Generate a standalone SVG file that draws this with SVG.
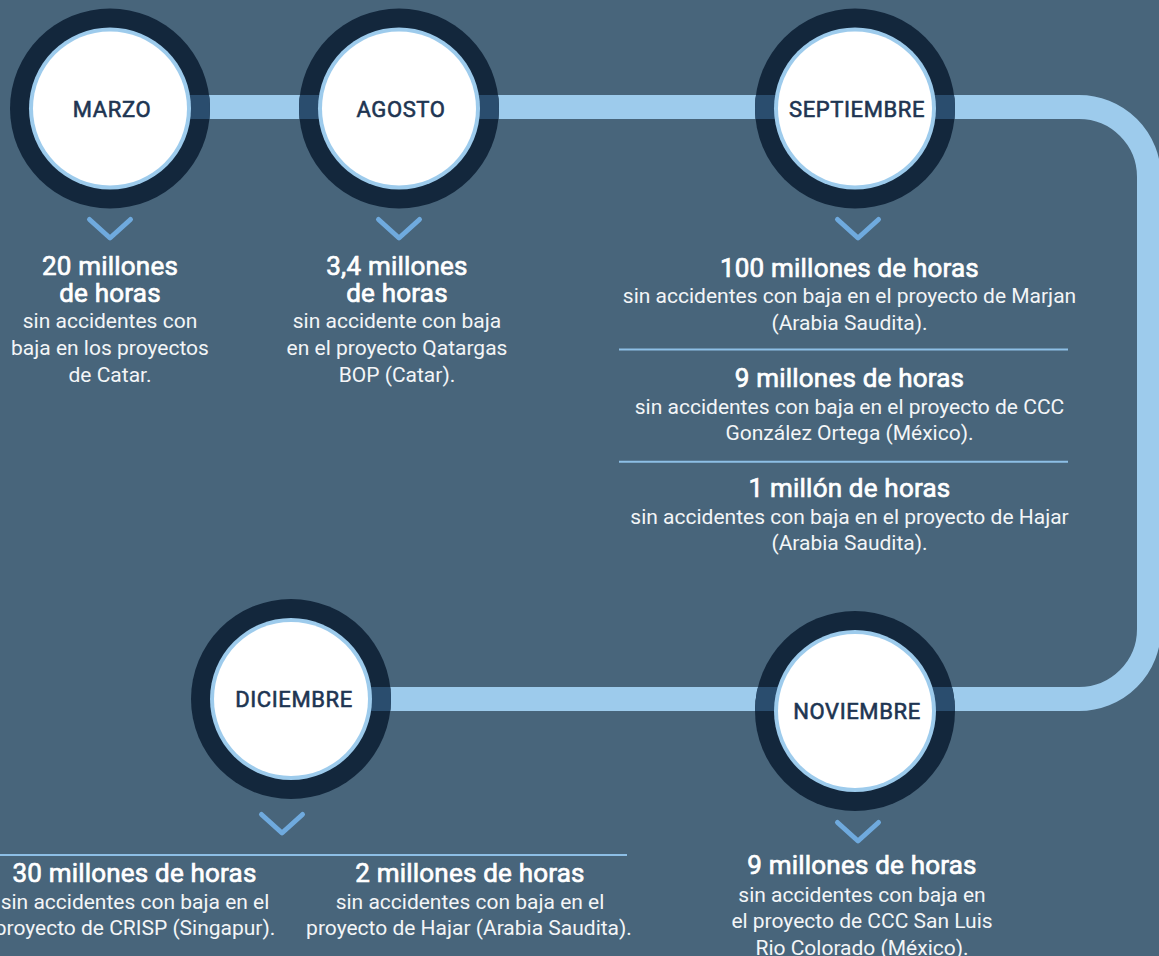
<svg xmlns="http://www.w3.org/2000/svg" xmlns:xlink="http://www.w3.org/1999/xlink" width="1159" height="956" viewBox="0 0 1159 956">
<style>
  text { font-family: Roboto, "Liberation Sans", sans-serif; text-anchor: middle; }
  .lbl { font-size: 22px; font-weight: 400; fill: #1e3552; stroke: #1e3552; stroke-width: 0.6px; letter-spacing: 0.6px; }
  .ttl { font-size: 26px; font-weight: 400; fill: #ffffff; stroke: #ffffff; stroke-width: 0.7px; letter-spacing: 0.2px; }
  .sub { font-size: 21px; font-weight: 400; fill: #f3f5f7; }
  .ring { fill: #13273c; }
  .halo { fill: #9dcbec; }
  .face { fill: #ffffff; }
  .chev { fill: none; stroke: #6faade; stroke-width: 5; stroke-linecap: round; stroke-linejoin: round; }
  .sep { stroke: #8dbfe6; stroke-width: 2; }
  .track { stroke: #9dcbec; stroke-width: 24; }
  .overlap { stroke: #2a4d6e; stroke-width: 24; }
</style>
<defs>
  <path id="trackPath" fill="none" d="M 110 107 H 1079 A 70 70 0 0 1 1149 177 V 629 A 70 70 0 0 1 1079 699 H 291"/>
  <clipPath id="clip-marzo"><circle cx="110" cy="108.5" r="100"/></clipPath>
  <clipPath id="clip-agosto"><circle cx="399" cy="108.5" r="100"/></clipPath>
  <clipPath id="clip-sept"><circle cx="855" cy="108.5" r="100"/></clipPath>
  <clipPath id="clip-nov"><circle cx="855" cy="711" r="100"/></clipPath>
  <clipPath id="clip-dic"><circle cx="291" cy="699" r="100"/></clipPath>
</defs>
<rect x="0" y="0" width="1159" height="956" fill="#48657b"/>

<g id="connectors">
  <use xlink:href="#trackPath" href="#trackPath" class="track"/>
</g>

<g id="node-marzo">
  <circle class="ring" cx="110" cy="108.5" r="100"/>
  <use xlink:href="#trackPath" href="#trackPath" class="overlap" clip-path="url(#clip-marzo)"/>
  <circle class="halo" cx="110" cy="108.5" r="81"/>
  <circle class="face" cx="110" cy="108.5" r="77"/>
  <text class="lbl" x="112" y="117">MARZO</text>
  <polyline class="chev" points="89.5,219.5 110,238 130.5,219.5"/>
  <text class="ttl" x="110" y="275">20 millones</text>
  <text class="ttl" x="110" y="301.7">de horas</text>
  <text class="sub" x="110" y="328.3">sin accidentes con</text>
  <text class="sub" x="110" y="355">baja en los proyectos</text>
  <text class="sub" x="110" y="381.7">de Catar.</text>
</g>

<g id="node-agosto">
  <circle class="ring" cx="399" cy="108.5" r="100"/>
  <use xlink:href="#trackPath" href="#trackPath" class="overlap" clip-path="url(#clip-agosto)"/>
  <circle class="halo" cx="399" cy="108.5" r="81"/>
  <circle class="face" cx="399" cy="108.5" r="77"/>
  <text class="lbl" x="401" y="117">AGOSTO</text>
  <polyline class="chev" points="378.5,219.5 399,238 419.5,219.5"/>
  <text class="ttl" x="397" y="275">3,4 millones</text>
  <text class="ttl" x="397" y="301.7">de horas</text>
  <text class="sub" x="397" y="328.3">sin accidente con baja</text>
  <text class="sub" x="397" y="355">en el proyecto Qatargas</text>
  <text class="sub" x="397" y="381.7">BOP (Catar).</text>
</g>

<g id="node-septiembre">
  <circle class="ring" cx="855" cy="108.5" r="100"/>
  <use xlink:href="#trackPath" href="#trackPath" class="overlap" clip-path="url(#clip-sept)"/>
  <circle class="halo" cx="855" cy="108.5" r="81"/>
  <circle class="face" cx="855" cy="108.5" r="77"/>
  <text class="lbl" x="857" y="117">SEPTIEMBRE</text>
  <polyline class="chev" points="837.5,219.5 858,238 878.5,219.5"/>
  <text class="ttl" x="849.5" y="276.7">100 millones de horas</text>
  <text class="sub" x="849.5" y="303.3">sin accidentes con baja en el proyecto de Marjan</text>
  <text class="sub" x="849.5" y="330">(Arabia Saudita).</text>
  <line class="sep" x1="619" y1="349.5" x2="1068" y2="349.5"/>
  <text class="ttl" x="849.5" y="386.7">9 millones de horas</text>
  <text class="sub" x="849.5" y="413.7">sin accidentes con baja en el proyecto de CCC</text>
  <text class="sub" x="849.5" y="440.3">González Ortega (México).</text>
  <line class="sep" x1="619" y1="461.7" x2="1068" y2="461.7"/>
  <text class="ttl" x="849.5" y="496.7">1 millón de horas</text>
  <text class="sub" x="849.5" y="523.7">sin accidentes con baja en el proyecto de Hajar</text>
  <text class="sub" x="849.5" y="550.3">(Arabia Saudita).</text>
</g>

<g id="node-noviembre">
  <circle class="ring" cx="855" cy="711" r="100"/>
  <use xlink:href="#trackPath" href="#trackPath" class="overlap" clip-path="url(#clip-nov)"/>
  <circle class="halo" cx="855" cy="711" r="81"/>
  <circle class="face" cx="855" cy="711" r="77"/>
  <text class="lbl" x="857" y="719">NOVIEMBRE</text>
  <polyline class="chev" points="837.5,822.5 858,841 878.5,822.5"/>
  <text class="ttl" x="862" y="874">9 millones de horas</text>
  <text class="sub" x="862" y="901.7">sin accidentes con baja en</text>
  <text class="sub" x="862" y="928.3">el proyecto de CCC San Luis</text>
  <text class="sub" x="862" y="955">Rio Colorado (México).</text>
</g>

<g id="node-diciembre">
  <circle class="ring" cx="291" cy="699" r="100"/>
  <use xlink:href="#trackPath" href="#trackPath" class="overlap" clip-path="url(#clip-dic)"/>
  <circle class="halo" cx="291" cy="699" r="81"/>
  <circle class="face" cx="291" cy="699" r="77"/>
  <text class="lbl" x="294" y="707">DICIEMBRE</text>
  <polyline class="chev" points="261.5,814.5 282,833 302.5,814.5"/>
  <line class="sep" x1="0" y1="855" x2="627" y2="855"/>
  <text class="ttl" x="134.5" y="881.7">30 millones de horas</text>
  <text class="sub" x="135" y="909">sin accidentes con baja en el</text>
  <text class="sub" x="135" y="935.3">proyecto de CRISP (Singapur).</text>
  <text class="ttl" x="470" y="881.7">2 millones de horas</text>
  <text class="sub" x="470" y="909">sin accidentes con baja en el</text>
  <text class="sub" x="469" y="935.3">proyecto de Hajar (Arabia Saudita).</text>
</g>
</svg>
